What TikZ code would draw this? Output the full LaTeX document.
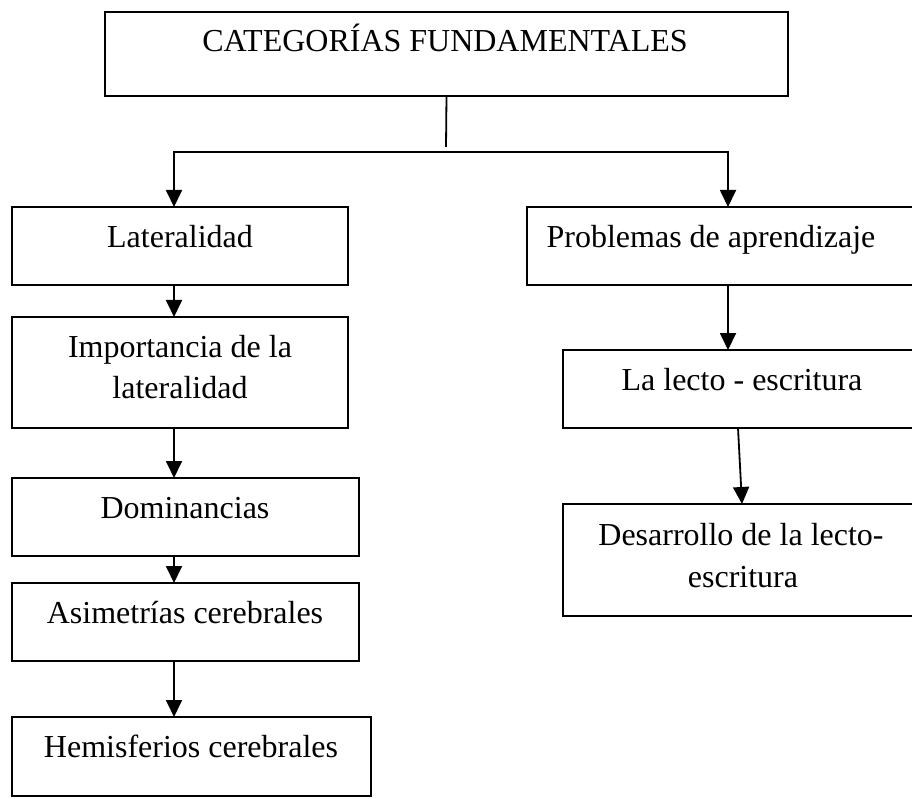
\documentclass[tikz,border=0pt]{standalone}
\usepackage{fontspec}
\setmainfont{Liberation Serif}
\usetikzlibrary{arrows.meta}
\begin{document}
\begin{tikzpicture}[x=1pt,y=-1pt,
  box/.style={draw, line width=1.5pt, rectangle, anchor=north west, inner sep=0pt, outer sep=0pt},
  lbl/.style={anchor=base, inner sep=0pt, font=\fontsize{32}{36}\selectfont},
  conn/.style={line width=1.8pt, line cap=rect},
  arr/.style={line width=1.8pt, -{Triangle[length=17pt,width=16pt]}}]
\useasboundingbox (0,0) rectangle (912,799);
% boxes
\node[box, minimum width=683pt, minimum height=84pt] (top) at (105,12) {};
\node[box, minimum width=336pt, minimum height=78pt] (lat) at (12,207) {};
\node[box, minimum width=336pt, minimum height=111pt] (imp) at (12,317) {};
\node[box, minimum width=347pt, minimum height=78pt] (dom) at (12,478) {};
\node[box, minimum width=347pt, minimum height=78pt] (asi) at (12,583) {};
\node[box, minimum width=359pt, minimum height=79pt] (hem) at (12,717) {};
\node[box, minimum width=405pt, minimum height=78pt] (prob) at (527,207) {};
\node[box, minimum width=370pt, minimum height=78pt] (lec) at (563,350) {};
\node[box, minimum width=370pt, minimum height=112pt] (des) at (563,504) {};
% texts
\node[lbl] (ttop) at (445,52) {CATEGORÍAS FUNDAMENTALES};
\node[lbl] (tlat) at (180,248) {Lateralidad};
\node[lbl] (timpa) at (180,357) {Importancia de la};
\node[lbl] (timpb) at (180,398) {lateralidad};
\node[lbl] (tdom) at (185,518) {Dominancias};
\node[lbl] (tasi) at (185,623) {Asimetrías cerebrales};
\node[lbl] (them) at (191,757) {Hemisferios cerebrales};
\node[lbl] (tprob) at (711,248) {Problemas de aprendizaje};
\node[lbl] (tlec) at (742,390) {La lecto - escritura};
\node[lbl] (tdesa) at (741,545) {Desarrollo de la lecto-};
\node[lbl] (tdesb) at (743,587) {escritura};
% connectors
\coordinate (j) at (446,147);
\coordinate (hl) at (174,152);
\coordinate (hr) at (728,152);
\coordinate (sa) at (738,428);
\coordinate (sb) at (742,504);
\draw[line width=1.8pt] (top.south) -- (j);
\draw[conn] (hl) -- (hr);
\draw[arr] (hl) -- (lat.north -| hl);
\draw[arr] (hr) -- (prob.north -| hr);
\draw[arr] (lat.south -| hl) -- (imp.north -| hl);
\draw[arr] (imp.south -| hl) -- (dom.north -| hl);
\draw[arr] (dom.south -| hl) -- (asi.north -| hl);
\draw[arr] (asi.south -| hl) -- (hem.north -| hl);
\draw[arr] (prob.south -| hr) -- (lec.north -| hr);
\draw[arr] (lec.south -| sa) -- (des.north -| sb);
\end{tikzpicture}
\end{document}
